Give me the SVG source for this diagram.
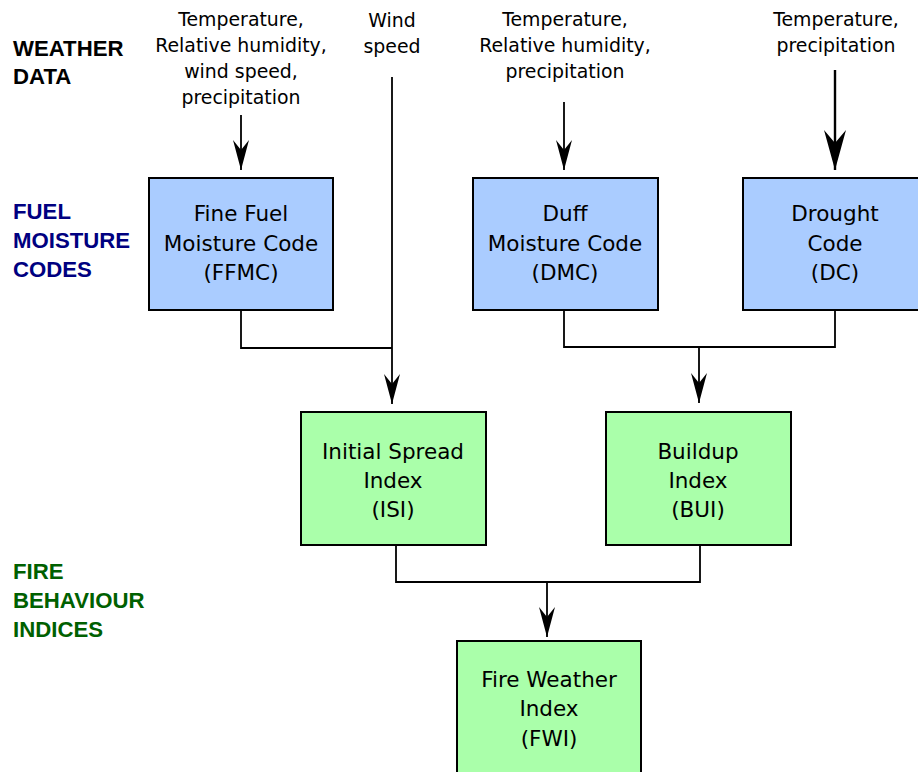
<svg xmlns="http://www.w3.org/2000/svg" width="918" height="772" viewBox="0 0 918 772">
<defs>
<style>
.bg{fill:#ffffff}
.blue{fill:#aaccff;stroke:#000;stroke-width:2}
.green{fill:#aaffaa;stroke:#000;stroke-width:2}
.box{font-family:"DejaVu Sans",sans-serif;font-size:21.5px;text-anchor:middle;fill:#000}
.wx{font-family:"DejaVu Sans",sans-serif;font-size:18.9px;text-anchor:middle;fill:#000}
.side{font-family:"Liberation Sans",Arial,sans-serif;font-size:22.2px;font-weight:bold}
.ln{fill:none;stroke:#000;stroke-width:1.8}
.lnb{fill:none;stroke:#000;stroke-width:2.4}
</style>
<marker id="ah" viewBox="0 0 30 16" refX="30" refY="8" markerWidth="30" markerHeight="16" markerUnits="userSpaceOnUse" orient="auto">
<path d="M0,0 L10,8 L0,16 L30,8 Z" fill="#000"/>
</marker>
<marker id="ahb" viewBox="0 0 40 22" refX="40" refY="11" markerWidth="40" markerHeight="22" markerUnits="userSpaceOnUse" orient="auto">
<path d="M0,0 L13,11 L0,22 L40,11 Z" fill="#000"/>
</marker>
</defs>
<rect class="bg" x="0" y="0" width="918" height="772"/>

<g id="labels">
<text class="side" fill="#000000" x="13" y="56">WEATHER</text>
<text class="side" fill="#000000" x="13" y="84">DATA</text>
<text class="side" fill="#000080" x="13" y="219">FUEL</text>
<text class="side" fill="#000080" x="13" y="248">MOISTURE</text>
<text class="side" fill="#000080" x="13" y="277">CODES</text>
<text class="side" fill="#006000" x="13" y="579">FIRE</text>
<text class="side" fill="#006000" x="13" y="608">BEHAVIOUR</text>
<text class="side" fill="#006000" x="13" y="637">INDICES</text>
</g>

<g id="weather">
<text class="wx" x="241" y="26">Temperature,</text>
<text class="wx" x="241" y="52">Relative humidity,</text>
<text class="wx" x="241" y="78">wind speed,</text>
<text class="wx" x="241" y="104">precipitation</text>
<text class="wx" x="392" y="27">Wind</text>
<text class="wx" x="392" y="53">speed</text>
<text class="wx" x="565" y="26">Temperature,</text>
<text class="wx" x="565" y="52">Relative humidity,</text>
<text class="wx" x="565" y="78">precipitation</text>
<text class="wx" x="836" y="26">Temperature,</text>
<text class="wx" x="836" y="52">precipitation</text>
</g>

<g id="connectors">
<line class="ln" x1="241" y1="115" x2="241" y2="170" marker-end="url(#ah)"/>
<line class="ln" x1="564" y1="102" x2="564" y2="170" marker-end="url(#ah)"/>
<line class="lnb" x1="835" y1="70" x2="835" y2="170" marker-end="url(#ahb)"/>
<line class="ln" x1="392" y1="77" x2="392" y2="404" marker-end="url(#ah)"/>
<polyline class="ln" points="241,310 241,348 392,348"/>
<polyline class="ln" points="564,310 564,347 835,347 835,310"/>
<line class="ln" x1="699" y1="347" x2="699" y2="403" marker-end="url(#ah)"/>
<polyline class="ln" points="396,545 396,582 700,582 700,545"/>
<line class="ln" x1="547" y1="582" x2="547" y2="637" marker-end="url(#ah)"/>
</g>

<g id="ffmc">
<rect class="blue" x="149" y="178" width="184" height="132"/>
<text class="box" x="241" y="221">Fine Fuel</text>
<text class="box" x="241" y="251">Moisture Code</text>
<text class="box" x="241" y="280">(FFMC)</text>
</g>
<g id="dmc">
<rect class="blue" x="473" y="178" width="185" height="132"/>
<text class="box" x="565" y="221">Duff</text>
<text class="box" x="565" y="251">Moisture Code</text>
<text class="box" x="565" y="280">(DMC)</text>
</g>
<g id="dc">
<rect class="blue" x="743" y="178" width="180" height="132"/>
<text class="box" x="835" y="221">Drought</text>
<text class="box" x="835" y="251">Code</text>
<text class="box" x="835" y="280">(DC)</text>
</g>
<g id="isi">
<rect class="green" x="301" y="412" width="185" height="133"/>
<text class="box" x="393" y="459">Initial Spread</text>
<text class="box" x="393" y="488">Index</text>
<text class="box" x="393" y="517">(ISI)</text>
</g>
<g id="bui">
<rect class="green" x="606" y="412" width="185" height="133"/>
<text class="box" x="698" y="459">Buildup</text>
<text class="box" x="698" y="488">Index</text>
<text class="box" x="698" y="517">(BUI)</text>
</g>
<g id="fwi">
<rect class="green" x="457" y="641" width="184" height="140"/>
<text class="box" x="549" y="687">Fire Weather</text>
<text class="box" x="549" y="716">Index</text>
<text class="box" x="549" y="746">(FWI)</text>
</g>
</svg>
